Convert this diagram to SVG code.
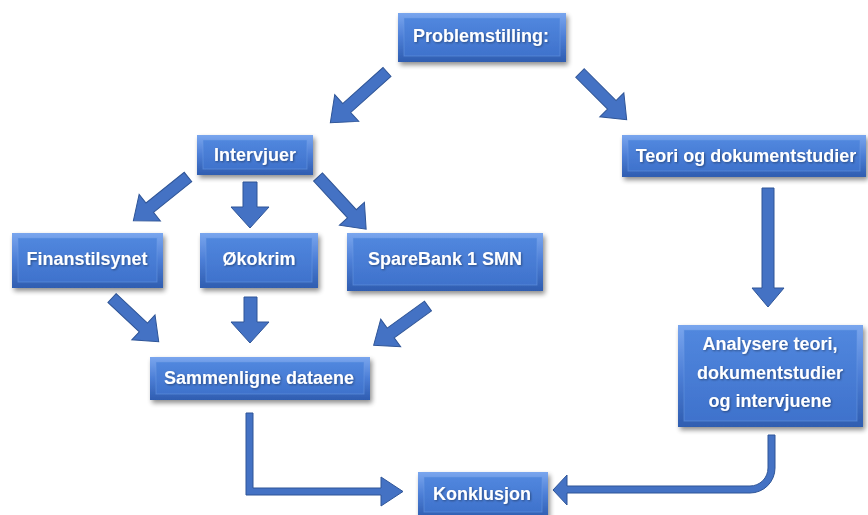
<svg xmlns="http://www.w3.org/2000/svg" width="868" height="515" viewBox="0 0 868 515">
<style>
.edge{fill:url(#gEdge)}
.face{fill:url(#gFace);stroke:#6E9BE6;stroke-width:1;stroke-opacity:0.5}
.box{filter:url(#sh)}
.lbl{font-family:"Liberation Sans",Arial,sans-serif;font-weight:bold;font-size:18px;fill:#FFFFFF;text-anchor:middle;dominant-baseline:central;filter:url(#tsh)}
.arr{fill:#4472C4;stroke:#2F5597;stroke-width:1}
</style>
<defs>
<linearGradient id="gEdge" x1="0" y1="0" x2="0" y2="1">
<stop offset="0" stop-color="#7AA6EE"/>
<stop offset="0.5" stop-color="#4C7ED6"/>
<stop offset="1" stop-color="#2F5DB0"/>
</linearGradient>
<linearGradient id="gFace" x1="0" y1="0" x2="0" y2="1">
<stop offset="0" stop-color="#5187DE"/>
<stop offset="1" stop-color="#3F72CC"/>
</linearGradient>
<filter id="sh" x="-10%" y="-20%" width="125%" height="150%">
<feGaussianBlur in="SourceAlpha" stdDeviation="2.5"/>
<feOffset dx="2" dy="3" result="b"/>
<feComponentTransfer><feFuncA type="linear" slope="0.45"/></feComponentTransfer>
<feMerge><feMergeNode/><feMergeNode in="SourceGraphic"/></feMerge>
</filter>
<filter id="tsh" x="-10%" y="-30%" width="120%" height="160%">
<feGaussianBlur in="SourceAlpha" stdDeviation="1"/>
<feOffset dx="1" dy="1"/>
<feComponentTransfer><feFuncA type="linear" slope="0.4"/></feComponentTransfer>
<feMerge><feMergeNode/><feMergeNode in="SourceGraphic"/></feMerge>
</filter>
</defs>

<g id="connectors">
<!-- Problemstilling -> Intervjuer -->
<path class="arr" transform="translate(387,72) rotate(138.2)" d="M0,-6 L54,-6 L54,-18 L76,0 L54,18 L54,6 L0,6 Z"/>
<!-- Problemstilling -> Teori -->
<path class="arr" transform="translate(580,73) rotate(45)" d="M0,-6 L45,-6 L45,-17 L66,0 L45,17 L45,6 L0,6 Z"/>
<!-- Intervjuer -> Finanstilsynet -->
<path class="arr" transform="translate(188,177) rotate(141.3)" d="M0,-6 L49,-6 L49,-17 L70,0 L49,17 L49,6 L0,6 Z"/>
<!-- Intervjuer -> Økokrim -->
<path class="arr" d="M243,182 H257 V207 H269 L250,228 L231,207 H243 Z"/>
<!-- Intervjuer -> SpareBank -->
<path class="arr" transform="translate(318,177) rotate(47.3)" d="M0,-6 L50,-6 L50,-17 L71,0 L50,17 L50,6 L0,6 Z"/>
<!-- Finanstilsynet -> Sammenligne -->
<path class="arr" transform="translate(112,298) rotate(43.1)" d="M0,-6 L43,-6 L43,-17 L64,0 L43,17 L43,6 L0,6 Z"/>
<!-- Økokrim -> Sammenligne -->
<path class="arr" d="M244,297 H257 V322 H269 L250,343 L231,322 H244 Z"/>
<!-- SpareBank -> Sammenligne -->
<path class="arr" transform="translate(428,306) rotate(144.2)" d="M0,-6 L46,-6 L46,-17 L67,0 L46,17 L46,6 L0,6 Z"/>
<!-- Teori -> Analysere -->
<path class="arr" d="M762,188 H774 V288 H784 L768,307 L752,288 H762 Z"/>
<!-- Sammenligne -> Konklusjon -->
<path class="arr" d="M246,413 H253 V488 H381 V477 L403,491.5 L381,506 V495 H246 Z"/>
<!-- Analysere -> Konklusjon -->
<path class="arr" d="M768,435 H775 V468 A25,25 0 0 1 750,493 H567 V505 L553,490 L567,475 V486 H750 A18,18 0 0 0 768,468 Z"/>
</g>

<g id="problemstilling" class="box">
<rect class="edge" x="398" y="13" width="168" height="49"/>
<rect class="face" x="404" y="18" width="156" height="38"/>
<text class="lbl" x="481" y="36">Problemstilling:</text>
</g>
<g id="intervjuer" class="box">
<rect class="edge" x="197" y="135" width="116" height="40"/>
<rect class="face" x="203" y="140" width="104" height="29"/>
<text class="lbl" x="255" y="155">Intervjuer</text>
</g>
<g id="finanstilsynet" class="box">
<rect class="edge" x="12" y="233" width="151" height="55"/>
<rect class="face" x="18" y="238" width="139" height="44"/>
<text class="lbl" x="87" y="259">Finanstilsynet</text>
</g>
<g id="okokrim" class="box">
<rect class="edge" x="200" y="233" width="118" height="55"/>
<rect class="face" x="206" y="238" width="106" height="44"/>
<text class="lbl" x="259" y="259">Økokrim</text>
</g>
<g id="sparebank" class="box">
<rect class="edge" x="347" y="233" width="196" height="58"/>
<rect class="face" x="353" y="238" width="184" height="47"/>
<text class="lbl" x="445" y="259">SpareBank 1 SMN</text>
</g>
<g id="teori" class="box">
<rect class="edge" x="622" y="135" width="244" height="42"/>
<rect class="face" x="628" y="140" width="232" height="31"/>
<text class="lbl" x="746" y="156">Teori og dokumentstudier</text>
</g>
<g id="analysere" class="box">
<rect class="edge" x="678" y="325" width="185" height="102"/>
<rect class="face" x="684" y="330" width="173" height="91"/>
<text class="lbl" x="770" y="344">Analysere teori,</text>
<text class="lbl" x="770" y="373">dokumentstudier</text>
<text class="lbl" x="770" y="401">og intervjuene</text>
</g>
<g id="sammenligne" class="box">
<rect class="edge" x="150" y="357" width="220" height="43"/>
<rect class="face" x="156" y="362" width="208" height="32"/>
<text class="lbl" x="259" y="378">Sammenligne dataene</text>
</g>
<g id="konklusjon" class="box">
<rect class="edge" x="418" y="472" width="130" height="46"/>
<rect class="face" x="424" y="477" width="118" height="35"/>
<text class="lbl" x="482" y="494">Konklusjon</text>
</g>
</svg>
